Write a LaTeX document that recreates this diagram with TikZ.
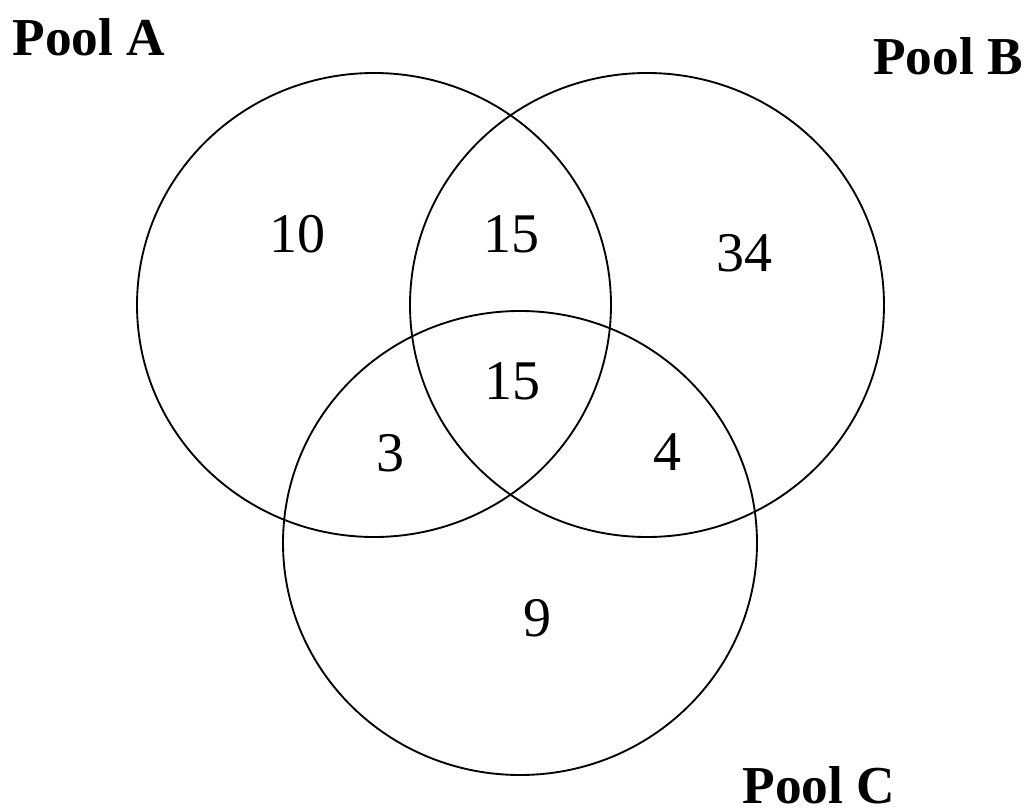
\documentclass[tikz,border=0pt]{standalone}
\usepackage{fontspec}
\setmainfont{Liberation Serif}

\begin{document}
\begin{tikzpicture}[x=0.75pt,y=-0.75pt,
    poollabel/.style={font=\fontsize{40}{48}\selectfont\bfseries, inner sep=0pt},
    count/.style={font=\fontsize{42}{50}\selectfont, inner sep=0pt}]
\def\rx{177.75pt} %horizontal radius
\def\ry{174pt} %vertical radius
\useasboundingbox (0,0) rectangle (1026,810);

\foreach \p/\x/\y in {A/374/305,B/647/305,C/520/543}
{
\coordinate (c\p) at (\x,\y); %centre of the pool
\draw [line width=1.4pt] (c\p) ellipse [x radius=\rx, y radius=\ry];
}

% pool names
\node [poollabel] (labA) at (89,37) {Pool A};
\node [poollabel] (labB) at (948,56) {Pool B};
\node [poollabel] (labC) at (819,785) {Pool C};

% counts in each region
\foreach \r/\x/\y/\v in {a/297/234/10, ab/511/234/15, b/744/253/34,
                         abc/512/381/15, ac/390/453/3, bc/667/452/4, c/537/618/9}
{
\node [count] (n\r) at (\x,\y) {\v};
}
\end{tikzpicture}
\end{document}
